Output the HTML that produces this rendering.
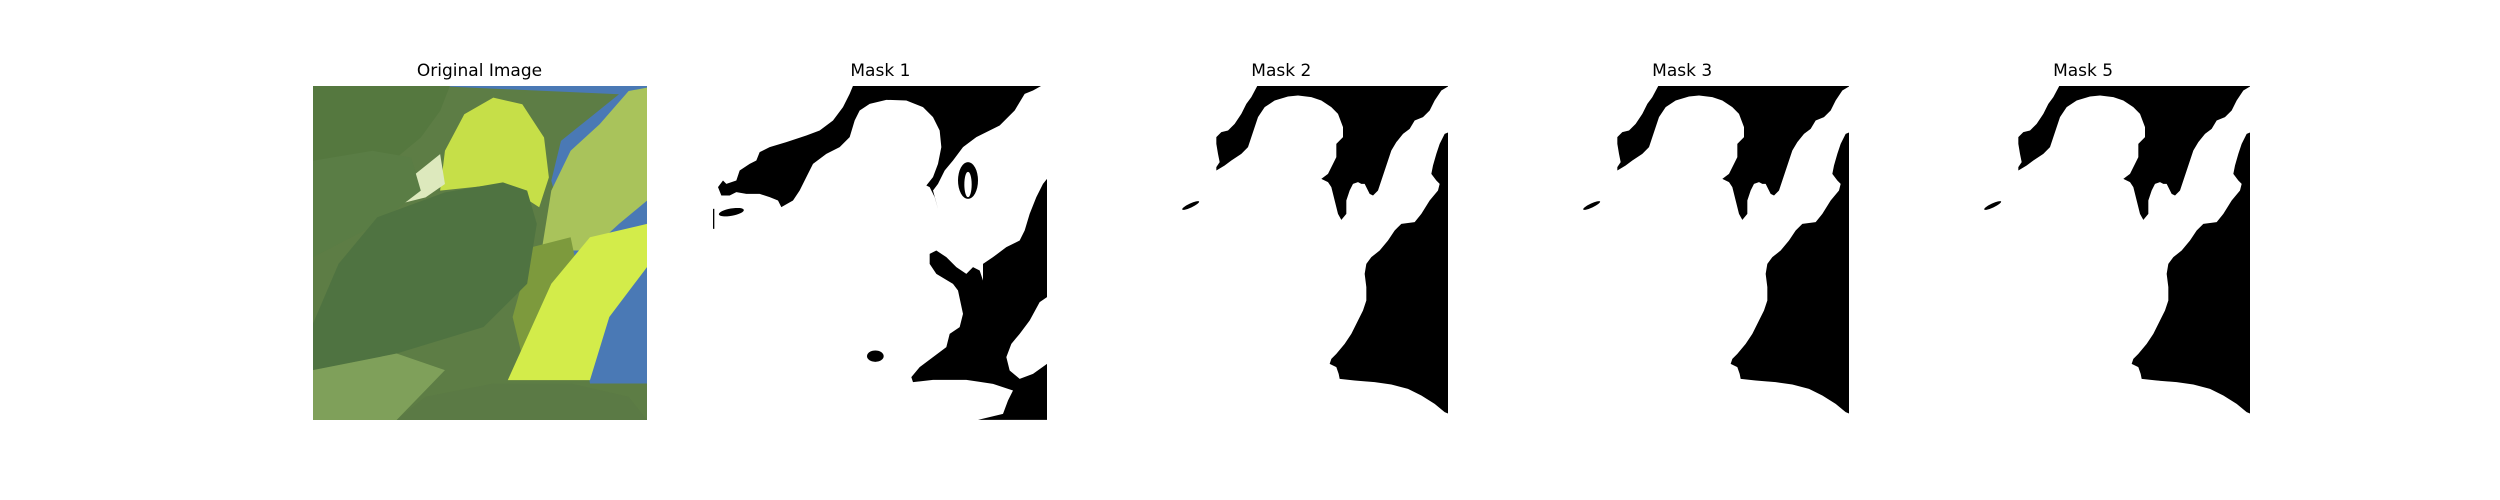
<!DOCTYPE html>
<html><head><meta charset="utf-8"><style>
html,body{margin:0;padding:0;background:#fff;}
#fig{position:relative;width:2500px;height:500px;overflow:hidden;background:#fff;}
.title{position:absolute;top:61px;width:334px;text-align:center;font-family:"DejaVu Sans","Liberation Sans",sans-serif;font-size:17px;color:#000;line-height:20px;}
.panel{position:absolute;top:85.5px;width:334px;height:334px;}
</style></head><body>
<div id="fig">
<svg width="0" height="0" style="position:absolute">
<defs>
<g id="maskB">
<path d="M478,16 L1052,16 L1050,18 L1030,30 L1010,60 L995,90 L975,110 L950,120 L935,145 L915,160 L895,185 L880,210 L870,240 L860,270 L850,300 L840,330 L825,345 L815,340 L800,310 L790,310 L780,305 L765,310 L755,330 L745,360 L745,400 L730,418 L720,400 L710,360 L700,320 L690,305 L670,295 L690,280 L705,250 L715,230 L715,190 L735,170 L735,140 L720,100 L700,80 L670,60 L640,50 L600,45 L570,48 L530,60 L500,80 L480,110 L470,140 L460,170 L450,200 L430,220 L400,240 L380,255 L355,270 L355,260 L365,245 L360,220 L355,190 L355,170 L370,155 L390,150 L410,130 L430,100 L445,70 L460,50 Z" fill="#000"/>
<path d="M1052,155 L1040,160 L1025,190 L1015,220 L1005,255 L1000,280 L1015,300 L1025,310 L1020,330 L995,360 L970,400 L950,425 L910,430 L890,450 L870,480 L845,510 L820,530 L805,550 L800,580 L805,620 L805,660 L795,690 L780,720 L760,760 L740,790 L715,820 L700,835 L695,850 L715,860 L722,880 L725,895 L770,900 L830,905 L880,912 L930,925 L970,945 L1010,970 L1040,995 L1052,1000 Z" fill="#000"/>
<ellipse cx="278" cy="375" rx="28" ry="6" transform="rotate(-25 278 375)" fill="#000"/>
</g>
</defs>
</svg>

<div class="title" style="left:312.5px">Original Image</div>
<svg class="panel" style="left:312.5px" viewBox="27 105 691 1005" preserveAspectRatio="none">
<rect x="27" y="105" width="691" height="1005" fill="#5d7d45"/>
<path d="M280,105 L718,105 L718,1000 L600,1000 L580,800 L560,600 L520,390 L540,270 L600,200 L660,130 Z" fill="#4a79b5"/>
<path d="M27,105 L310,105 L290,180 L250,260 L200,320 L27,340 Z" fill="#55783f"/>
<path d="M290,420 L300,300 L340,190 L400,140 L460,160 L505,260 L515,380 L495,470 L420,400 Z" fill="#c6df48"/>
<path d="M205,460 L230,380 L290,310 L300,400 L260,440 Z" fill="#dde9bd"/>
<path d="M500,600 L520,420 L560,300 L620,220 L680,120 L718,110 L718,450 L660,520 L600,600 Z" fill="#a9c35b"/>
<path d="M27,330 L150,300 L230,320 L250,420 L160,520 L27,620 Z" fill="#5a7d45"/>
<path d="M480,590 L560,560 L580,700 L560,950 L470,980 L440,800 Z" fill="#7d9a3d"/>
<path d="M430,990 L520,700 L600,560 L718,520 L718,650 L640,800 L600,990 Z" fill="#d3ec4a"/>
<path d="M27,820 L80,640 L160,500 L300,425 L420,395 L470,420 L490,520 L470,700 L380,830 L200,910 L27,960 Z" fill="#4f7341"/>
<path d="M200,1110 L260,1040 L400,1000 L560,1000 L680,1040 L718,1110 Z" fill="#5b7a45"/>
<path d="M27,960 L200,910 L300,960 L200,1110 L27,1110 Z" fill="#7fa05a"/>
</svg>

<div class="title" style="left:713.4px">Mask 1</div>
<svg class="panel" style="left:713.4px" viewBox="40 16.5 1002 1002">
<path d="M460,16 L1025,16 L1000,30 L975,40 L945,90 L900,135 L830,170 L790,200 L760,240 L735,270 L715,310 L700,330 L715,385 L705,350 L690,320 L680,315 L700,290 L715,250 L725,200 L720,150 L700,110 L670,80 L620,60 L560,58 L510,70 L480,90 L465,120 L450,170 L420,200 L380,220 L340,250 L320,290 L300,330 L280,360 L245,380 L235,360 L210,350 L180,340 L140,340 L110,335 L90,345 L65,345 L55,320 L70,300 L80,310 L110,300 L120,270 L150,250 L170,240 L180,215 L210,200 L260,185 L320,165 L360,150 L400,120 L430,80 L450,40 Z" fill="#000"/>
<ellipse cx="805" cy="300" rx="30" ry="55" fill="#000"/>
<ellipse cx="805" cy="312" rx="11" ry="38" fill="#fff"/>
<ellipse cx="95" cy="395" rx="38" ry="11" transform="rotate(-10 95 395)" fill="#000"/>
<rect x="40" y="385" width="4" height="60" fill="#000"/>
<ellipse cx="527" cy="827" rx="25" ry="17" fill="#000"/>
<path d="M1042,295 L1030,310 L1010,350 L990,400 L975,450 L960,480 L920,500 L880,530 L850,550 L850,600 L840,570 L820,560 L800,580 L770,560 L740,530 L710,510 L690,520 L690,550 L710,580 L760,610 L775,630 L790,700 L780,740 L750,760 L740,800 L700,830 L660,860 L635,890 L640,905 L700,898 L800,898 L880,910 L940,930 L925,960 L910,1000 L835,1018 L1042,1018 Z" fill="#000"/>
<path d="M1042,650 L1020,665 L990,720 L960,760 L935,790 L920,830 L930,870 L960,895 L1000,880 L1042,850 Z" fill="#fff"/>
</svg>

<div class="title" style="left:1114.3px">Mask 2</div>
<svg class="panel" style="left:1114.3px" viewBox="48 16.5 1002 1002"><use href="#maskB"/></svg>

<div class="title" style="left:1515.2px">Mask 3</div>
<svg class="panel" style="left:1515.2px" viewBox="48 16.5 1002 1002"><use href="#maskB"/></svg>

<div class="title" style="left:1916.1px">Mask 5</div>
<svg class="panel" style="left:1916.1px" viewBox="48 16.5 1002 1002"><use href="#maskB"/></svg>
</div>
</body></html>
